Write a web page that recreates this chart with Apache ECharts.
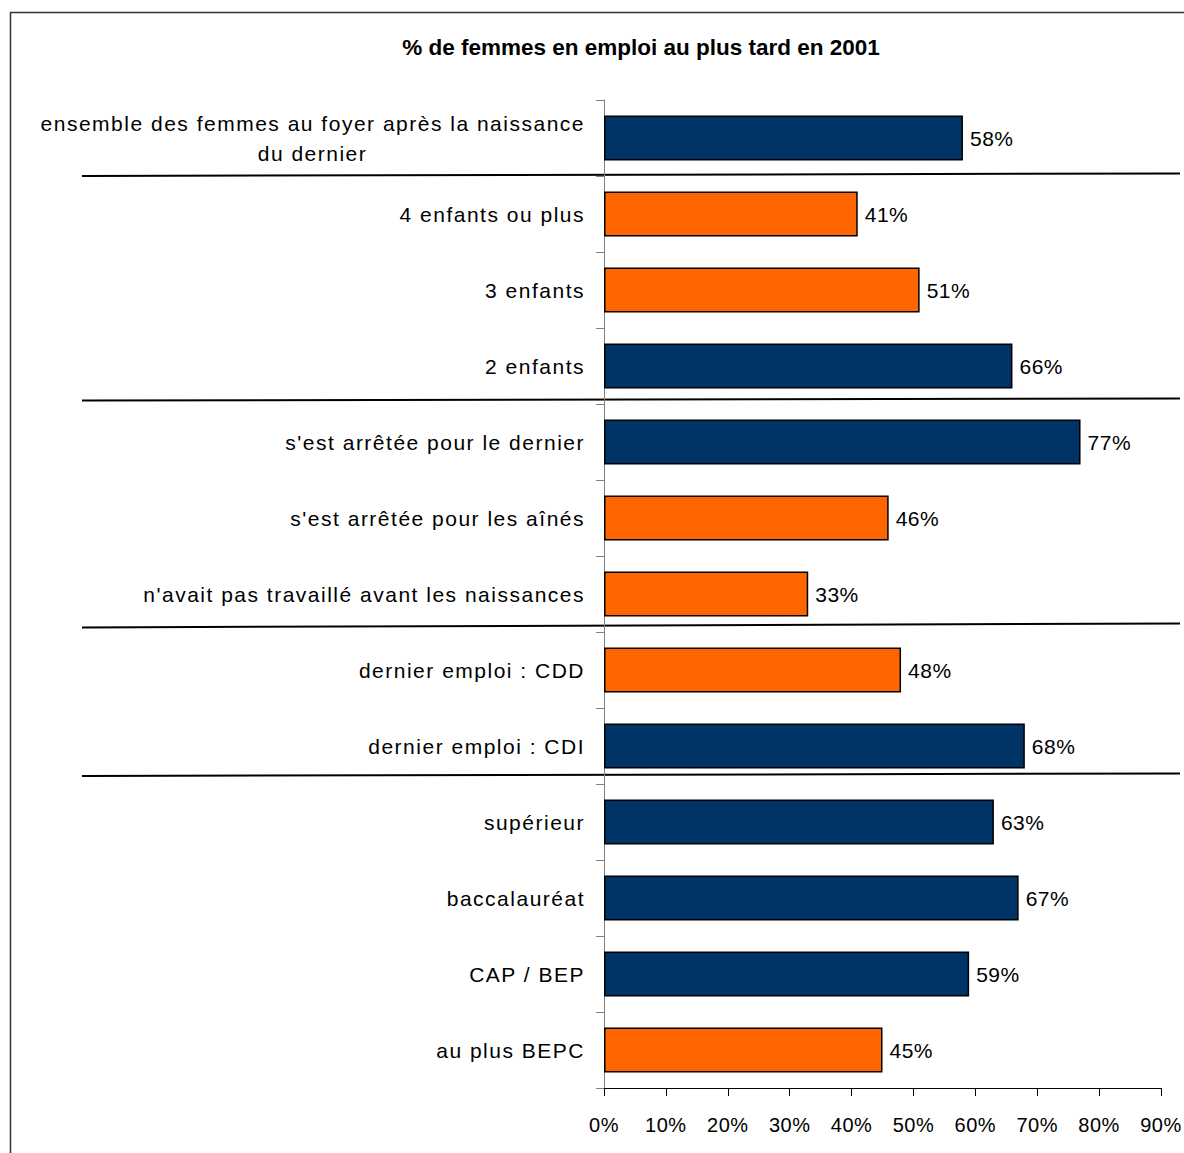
<!DOCTYPE html>
<html>
<head>
<meta charset="utf-8">
<script src="https://cdn.jsdelivr.net/npm/echarts@6/dist/echarts.min.js"></script>
<style>
  html, body { margin: 0; padding: 0; background: #fff; }
  #chart { width: 1184px; height: 1153px; }
</style>
</head>
<body>
<div id="chart"></div>
<script>
// Share of women in employment at the latest in 2001, by profile
const categories = [
  "ensemble des femmes au foyer après la naissance\ndu dernier",
  "4 enfants ou plus",
  "3 enfants",
  "2 enfants",
  "s'est arrêtée pour le dernier",
  "s'est arrêtée pour les aînés",
  "n'avait pas travaillé avant les naissances",
  "dernier emploi : CDD",
  "dernier emploi : CDI",
  "supérieur",
  "baccalauréat",
  "CAP / BEP",
  "au plus BEPC"
];
const values = [58, 41, 51, 66, 77, 46, 33, 48, 68, 63, 67, 59, 45];
// 1 = highlighted (orange), 0 = standard (navy)
const highlight = [0, 1, 1, 0, 0, 1, 1, 1, 0, 0, 0, 0, 1];
const xTicks = [0, 10, 20, 30, 40, 50, 60, 70, 80, 90];

const NAVY = "#003366";
const ORANGE = "#FF6600";
const FONT = "Liberation Sans, Arial, sans-serif";
const LABEL_SIZE = 21;
const CAT_SPACING = 1.5;  // extra letter spacing of the category labels (px)
const NUM_SPACING = 0.5;  // extra letter spacing of the percentage labels (px)

// width of the first line of the two-line label, so the second line can be centred under it
const ctx = document.createElement("canvas").getContext("2d");
ctx.font = LABEL_SIZE + "px " + FONT;
const firstLine = categories[0].split("\n")[0];
const firstLineWidth = Math.ceil(ctx.measureText(firstLine).width + firstLine.length * CAT_SPACING);

const catLines = new Set();
categories.forEach(c => c.split("\n").forEach(l => catLines.add(l)));

const chart = echarts.init(document.getElementById("chart"), null, { renderer: "svg" });

const option = {
  animation: false,
  backgroundColor: "#fff",
  title: {
    text: "% de femmes en emploi au plus tard en 2001",
    left: 636,
    textAlign: "center",
    top: 31,
    textStyle: { fontFamily: FONT, fontSize: 22.5, fontWeight: "bold", color: "#000" }
  },
  grid: { left: 604, top: 100, width: 557.5, height: 988 },
  xAxis: {
    type: "value",
    min: xTicks[0],
    max: xTicks[xTicks.length - 1],
    interval: 10,
    axisLine: { show: true, lineStyle: { color: "#000", width: 1 } },
    axisTick: { show: true, length: 8, lineStyle: { color: "#000" } },
    splitLine: { show: false },
    axisLabel: {
      margin: 27,
      formatter: v => v + "%",
      fontFamily: FONT, fontSize: LABEL_SIZE - 1, color: "#000"
    }
  },
  yAxis: {
    type: "category",
    inverse: true,
    data: categories,
    axisLine: { show: true, lineStyle: { color: "#808080", width: 1 } },
    axisTick: { show: true, length: 8, lineStyle: { color: "#808080" } },
    axisLabel: {
      margin: 19,
      interval: 0,
      align: "right",
      fontFamily: FONT, fontSize: LABEL_SIZE, color: "#000", lineHeight: 30,
      formatter: v => {
        const parts = v.split("\n");
        if (parts.length === 1) return v;
        return "{a|" + parts[0] + "}\n{b|" + parts[1] + "}";
      },
      rich: {
        a: { fontFamily: FONT, fontSize: LABEL_SIZE, color: "#000", lineHeight: 30 },
        b: { fontFamily: FONT, fontSize: LABEL_SIZE, color: "#000", lineHeight: 30,
             width: firstLineWidth, align: "center" }
      }
    }
  },
  series: [{
    type: "bar",
    barCategoryGap: "41%",
    data: values.map((v, i) => ({
      value: v,
      itemStyle: { color: highlight[i] ? ORANGE : NAVY }
    })),
    itemStyle: { borderColor: "#000", borderWidth: 1.5 },
    label: {
      show: true,
      position: "right",
      distance: 7,
      formatter: p => p.value + "%",
      fontFamily: FONT, fontSize: LABEL_SIZE, color: "#000"
    }
  }],
  graphic: [
    // outer frame
    { type: "rect", silent: true, z: 0,
      shape: { x: 10.5, y: 12.5, width: 1200, height: 1200 },
      style: { fill: null, stroke: "#333", lineWidth: 1.5 } },
    // group separators
    { type: "line", silent: true, shape: { x1: 82, y1: 176, x2: 1180, y2: 173.5 },
      style: { stroke: "#000", lineWidth: 2 } },
    { type: "line", silent: true, shape: { x1: 82, y1: 400.5, x2: 1180, y2: 398.5 },
      style: { stroke: "#000", lineWidth: 2 } },
    { type: "line", silent: true, shape: { x1: 82, y1: 627.5, x2: 1180, y2: 623.5 },
      style: { stroke: "#000", lineWidth: 2 } },
    { type: "line", silent: true, shape: { x1: 82, y1: 776, x2: 1180, y2: 773.5 },
      style: { stroke: "#000", lineWidth: 2 } }
  ]
};

// open up the letter spacing of the axis and value labels
function spaceLabels() {
  document.querySelectorAll("#chart svg text").forEach(t => {
    const s = t.textContent;
    if (catLines.has(s)) t.style.letterSpacing = CAT_SPACING + "px";
    else if (/^\d+%$/.test(s)) t.style.letterSpacing = NUM_SPACING + "px";
  });
}

chart.on("finished", spaceLabels);
chart.setOption(option);
spaceLabels();
</script>
</body>
</html>
